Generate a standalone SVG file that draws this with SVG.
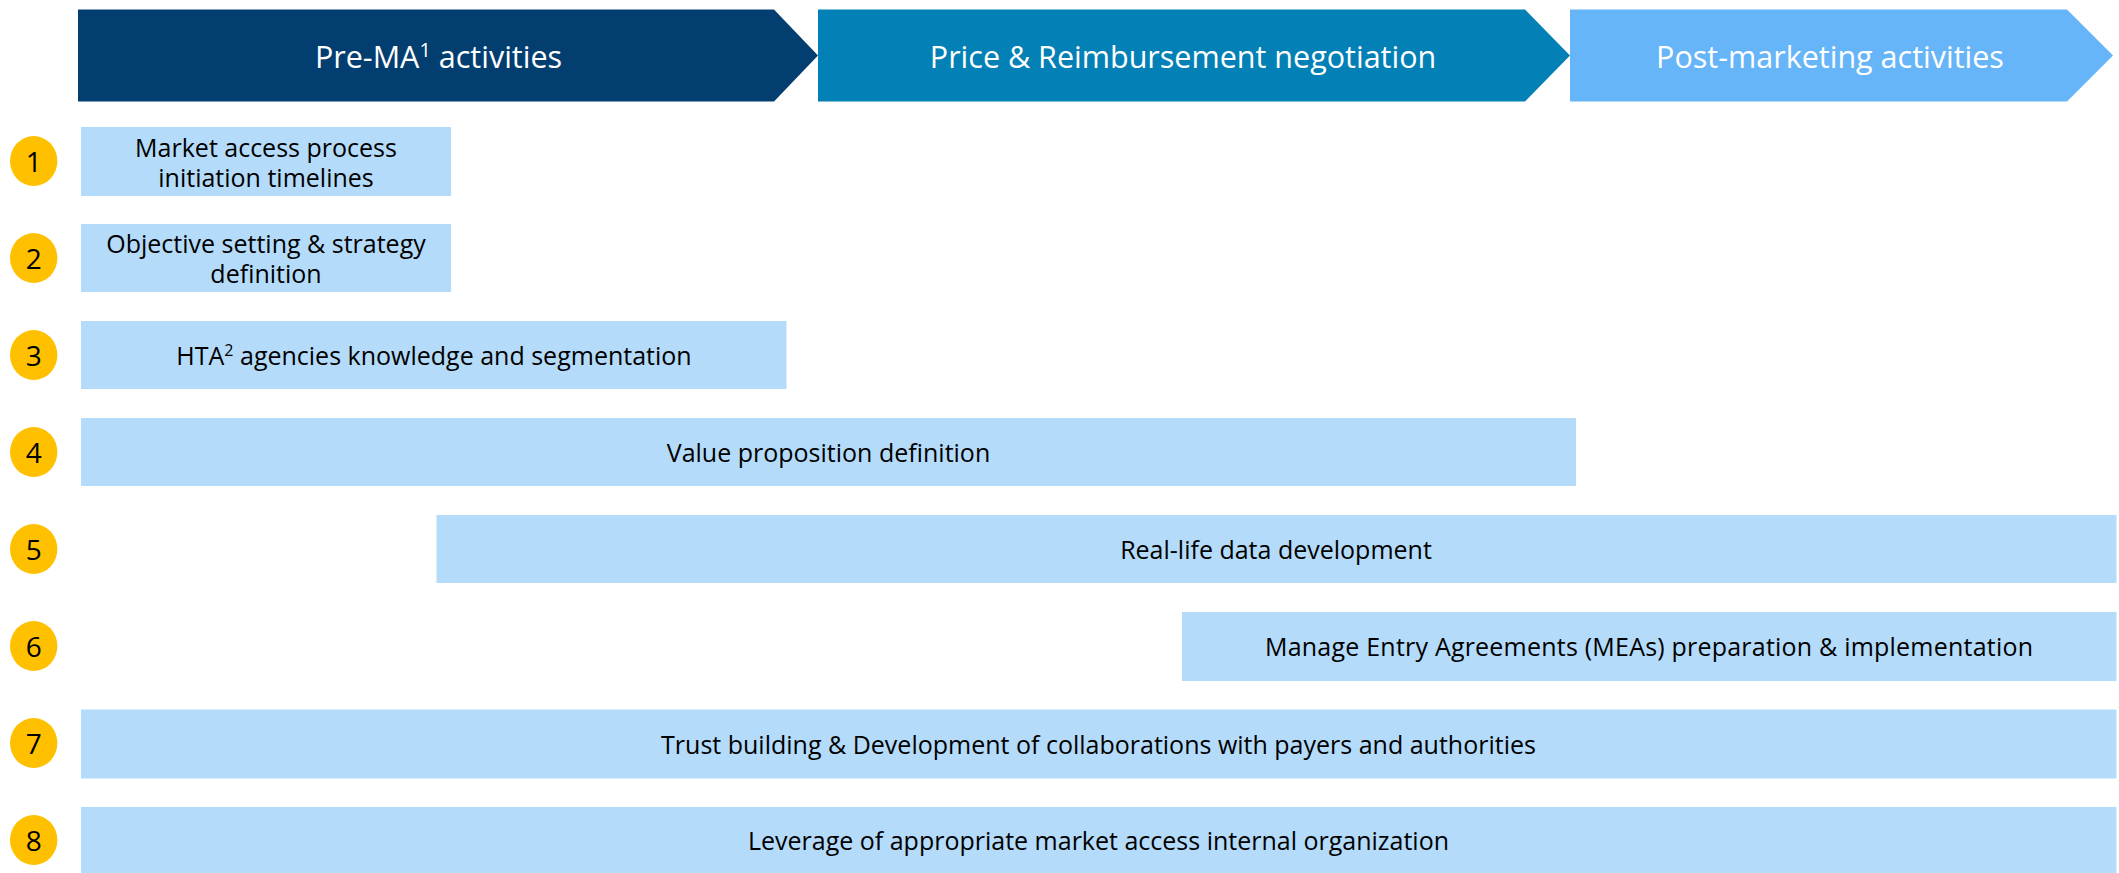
<svg xmlns="http://www.w3.org/2000/svg" width="2119" height="873" viewBox="0 0 2119 873">
<style>
.hdr{font-family:"Open Sans","Liberation Sans",sans-serif;font-size:30.5px;fill:#ffffff;text-anchor:middle}
.bar{fill:#B4DBFA}
.lbl{font-family:"Open Sans","Liberation Sans",sans-serif;font-size:25px;fill:#000000;text-anchor:middle}
.num{fill:#FFC000}
.numt{font-family:"Open Sans","Liberation Sans",sans-serif;font-size:28px;fill:#000000;text-anchor:middle}
</style>
<rect width="2119" height="873" fill="#ffffff"/>
<g id="phase1">
<polygon points="78,9.5 774,9.5 818,55.5 774,101.5 78,101.5" fill="#033E70"/>
<text class="hdr" x="438.5" y="67.5">Pre-MA<tspan font-size="20" dy="-11">1</tspan><tspan dy="11"> activities</tspan></text>
</g>
<g id="phase2">
<polygon points="818,9.5 1525,9.5 1570,55.5 1525,101.5 818,101.5" fill="#0380B5"/>
<text class="hdr" x="1183" y="67.5">Price &amp; Reimbursement negotiation</text>
</g>
<g id="phase3">
<polygon points="1570,9.5 2067,9.5 2113,55.5 2067,101.5 1570,101.5" fill="#66B5F8"/>
<text class="hdr" x="1830" y="67.5">Post-marketing activities</text>
</g>
<g id="item1">
<ellipse class="num" cx="33.7" cy="161" rx="23.7" ry="25"/>
<text class="numt" x="33.7" y="171.5">1</text>
<rect class="bar" x="81" y="127" width="370" height="69"/>
<text class="lbl" x="266" y="156.5">Market access process</text>
<text class="lbl" x="266" y="186.5">initiation timelines</text>
</g>
<g id="item2">
<ellipse class="num" cx="33.7" cy="258" rx="23.7" ry="25"/>
<text class="numt" x="33.7" y="268.5">2</text>
<rect class="bar" x="81" y="224" width="370" height="68"/>
<text class="lbl" x="266" y="253">Objective setting &amp; strategy</text>
<text class="lbl" x="266" y="283">definition</text>
</g>
<g id="item3">
<ellipse class="num" cx="33.7" cy="355" rx="23.7" ry="25"/>
<text class="numt" x="33.7" y="365.5">3</text>
<rect class="bar" x="81" y="321" width="705.5" height="68"/>
<text class="lbl" x="434" y="365">HTA<tspan font-size="16" dy="-9">2</tspan><tspan dy="9"> agencies knowledge and segmentation</tspan></text>
</g>
<g id="item4">
<ellipse class="num" cx="33.7" cy="452" rx="23.7" ry="25"/>
<text class="numt" x="33.7" y="462.5">4</text>
<rect class="bar" x="81" y="418" width="1495" height="68"/>
<text class="lbl" x="828.5" y="462">Value proposition definition</text>
</g>
<g id="item5">
<ellipse class="num" cx="33.7" cy="549" rx="23.7" ry="25"/>
<text class="numt" x="33.7" y="559.5">5</text>
<rect class="bar" x="436.5" y="515" width="1680" height="68"/>
<text class="lbl" x="1276" y="559">Real-life data development</text>
</g>
<g id="item6">
<ellipse class="num" cx="33.7" cy="646" rx="23.7" ry="25"/>
<text class="numt" x="33.7" y="656.5">6</text>
<rect class="bar" x="1182" y="612" width="934.5" height="69"/>
<text class="lbl" x="1649" y="656" textLength="768" lengthAdjust="spacing">Manage Entry Agreements (MEAs) preparation &amp; implementation</text>
</g>
<g id="item7">
<ellipse class="num" cx="33.7" cy="743" rx="23.7" ry="25"/>
<text class="numt" x="33.7" y="753.5">7</text>
<rect class="bar" x="81" y="709.5" width="2035.5" height="69"/>
<text class="lbl" x="1098.5" y="753.5">Trust building &amp; Development of collaborations with payers and authorities</text>
</g>
<g id="item8">
<ellipse class="num" cx="33.7" cy="840" rx="23.7" ry="25"/>
<text class="numt" x="33.7" y="850.5">8</text>
<rect class="bar" x="81" y="807" width="2035.5" height="66"/>
<text class="lbl" x="1098.5" y="850">Leverage of appropriate market access internal organization</text>
</g>
<g id="connectors"/>
</svg>
